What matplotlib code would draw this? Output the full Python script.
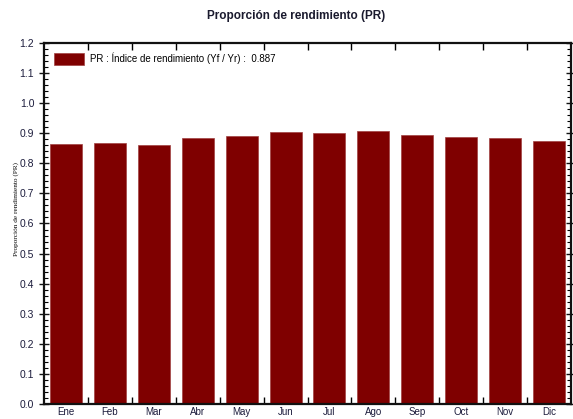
import matplotlib.pyplot as plt
from matplotlib.ticker import MultipleLocator, FixedLocator
from matplotlib.patches import Patch

# monthly performance ratio values
months = ["Ene", "Feb", "Mar", "Abr", "May", "Jun",
          "Jul", "Ago", "Sep", "Oct", "Nov", "Dic"]
pr_values = [0.864, 0.868, 0.862, 0.883, 0.891, 0.903,
             0.900, 0.906, 0.893, 0.889, 0.883, 0.874]
pr_annual = 0.887

BAR_COLOR = "#7f0000"

plt.rcParams["font.family"] = ["Liberation Sans", "DejaVu Sans"]

fig = plt.figure(figsize=(5.73, 4.19), dpi=100)
ax = fig.add_axes([0.0768, 0.0358, 0.9197, 0.8616])

x = range(len(months))
ax.bar(x, pr_values, width=0.73, color=BAR_COLOR,
       edgecolor="#a04040", linewidth=0.5, zorder=2)

ax.set_xlim(-0.5, len(months) - 0.5)
ax.set_ylim(0, 1.2)

ax.set_xticks(list(x))
ax.set_xticklabels(months)
ax.xaxis.set_minor_locator(FixedLocator([i + 0.5 for i in range(len(months) - 1)]))
ax.tick_params(axis="x", which="major", length=0, labelsize=7, pad=2.5)
ax.tick_params(axis="x", which="minor", direction="in", length=5,
               width=1, top=True, bottom=True)

ax.yaxis.set_major_locator(MultipleLocator(0.1))
ax.yaxis.set_minor_locator(MultipleLocator(0.02))
ax.yaxis.set_major_formatter(plt.FuncFormatter(lambda v, p: f"{v:.1f}"))
ax.tick_params(axis="y", which="major", direction="inout", length=7,
               width=1, labelsize=7.5, left=True, right=True)
ax.tick_params(axis="y", which="minor", direction="in", length=3,
               width=0.8, left=True, right=True)
ax.tick_params(colors="#111111", labelcolor="#1c1c3c")

for s in ax.spines.values():
    s.set_linewidth(1.6)
    s.set_color("#111111")

ax.set_ylabel("Proporción de rendimiento (PR)", fontsize=5.2,
              family=["Liberation Serif", "DejaVu Serif"])
ax.yaxis.set_label_coords(-0.047, 0.54)
fig.suptitle("Proporción de rendimiento (PR)", fontsize=8.5,
             fontweight="bold", color="#1a1a2e", x=0.517, y=0.975)

handle = Patch(facecolor=BAR_COLOR, edgecolor="#a04040", linewidth=0.5)
ax.legend([handle], [f"PR : Índice de rendimiento (Yf / Yr) :  {pr_annual:.3f}"],
          loc="upper left", frameon=False, fontsize=7,
          handlelength=3.0, handleheight=1.6, handletextpad=0.7,
          borderaxespad=0.4, bbox_to_anchor=(0.005, 0.995))

fig.savefig("out.png", dpi=100)
